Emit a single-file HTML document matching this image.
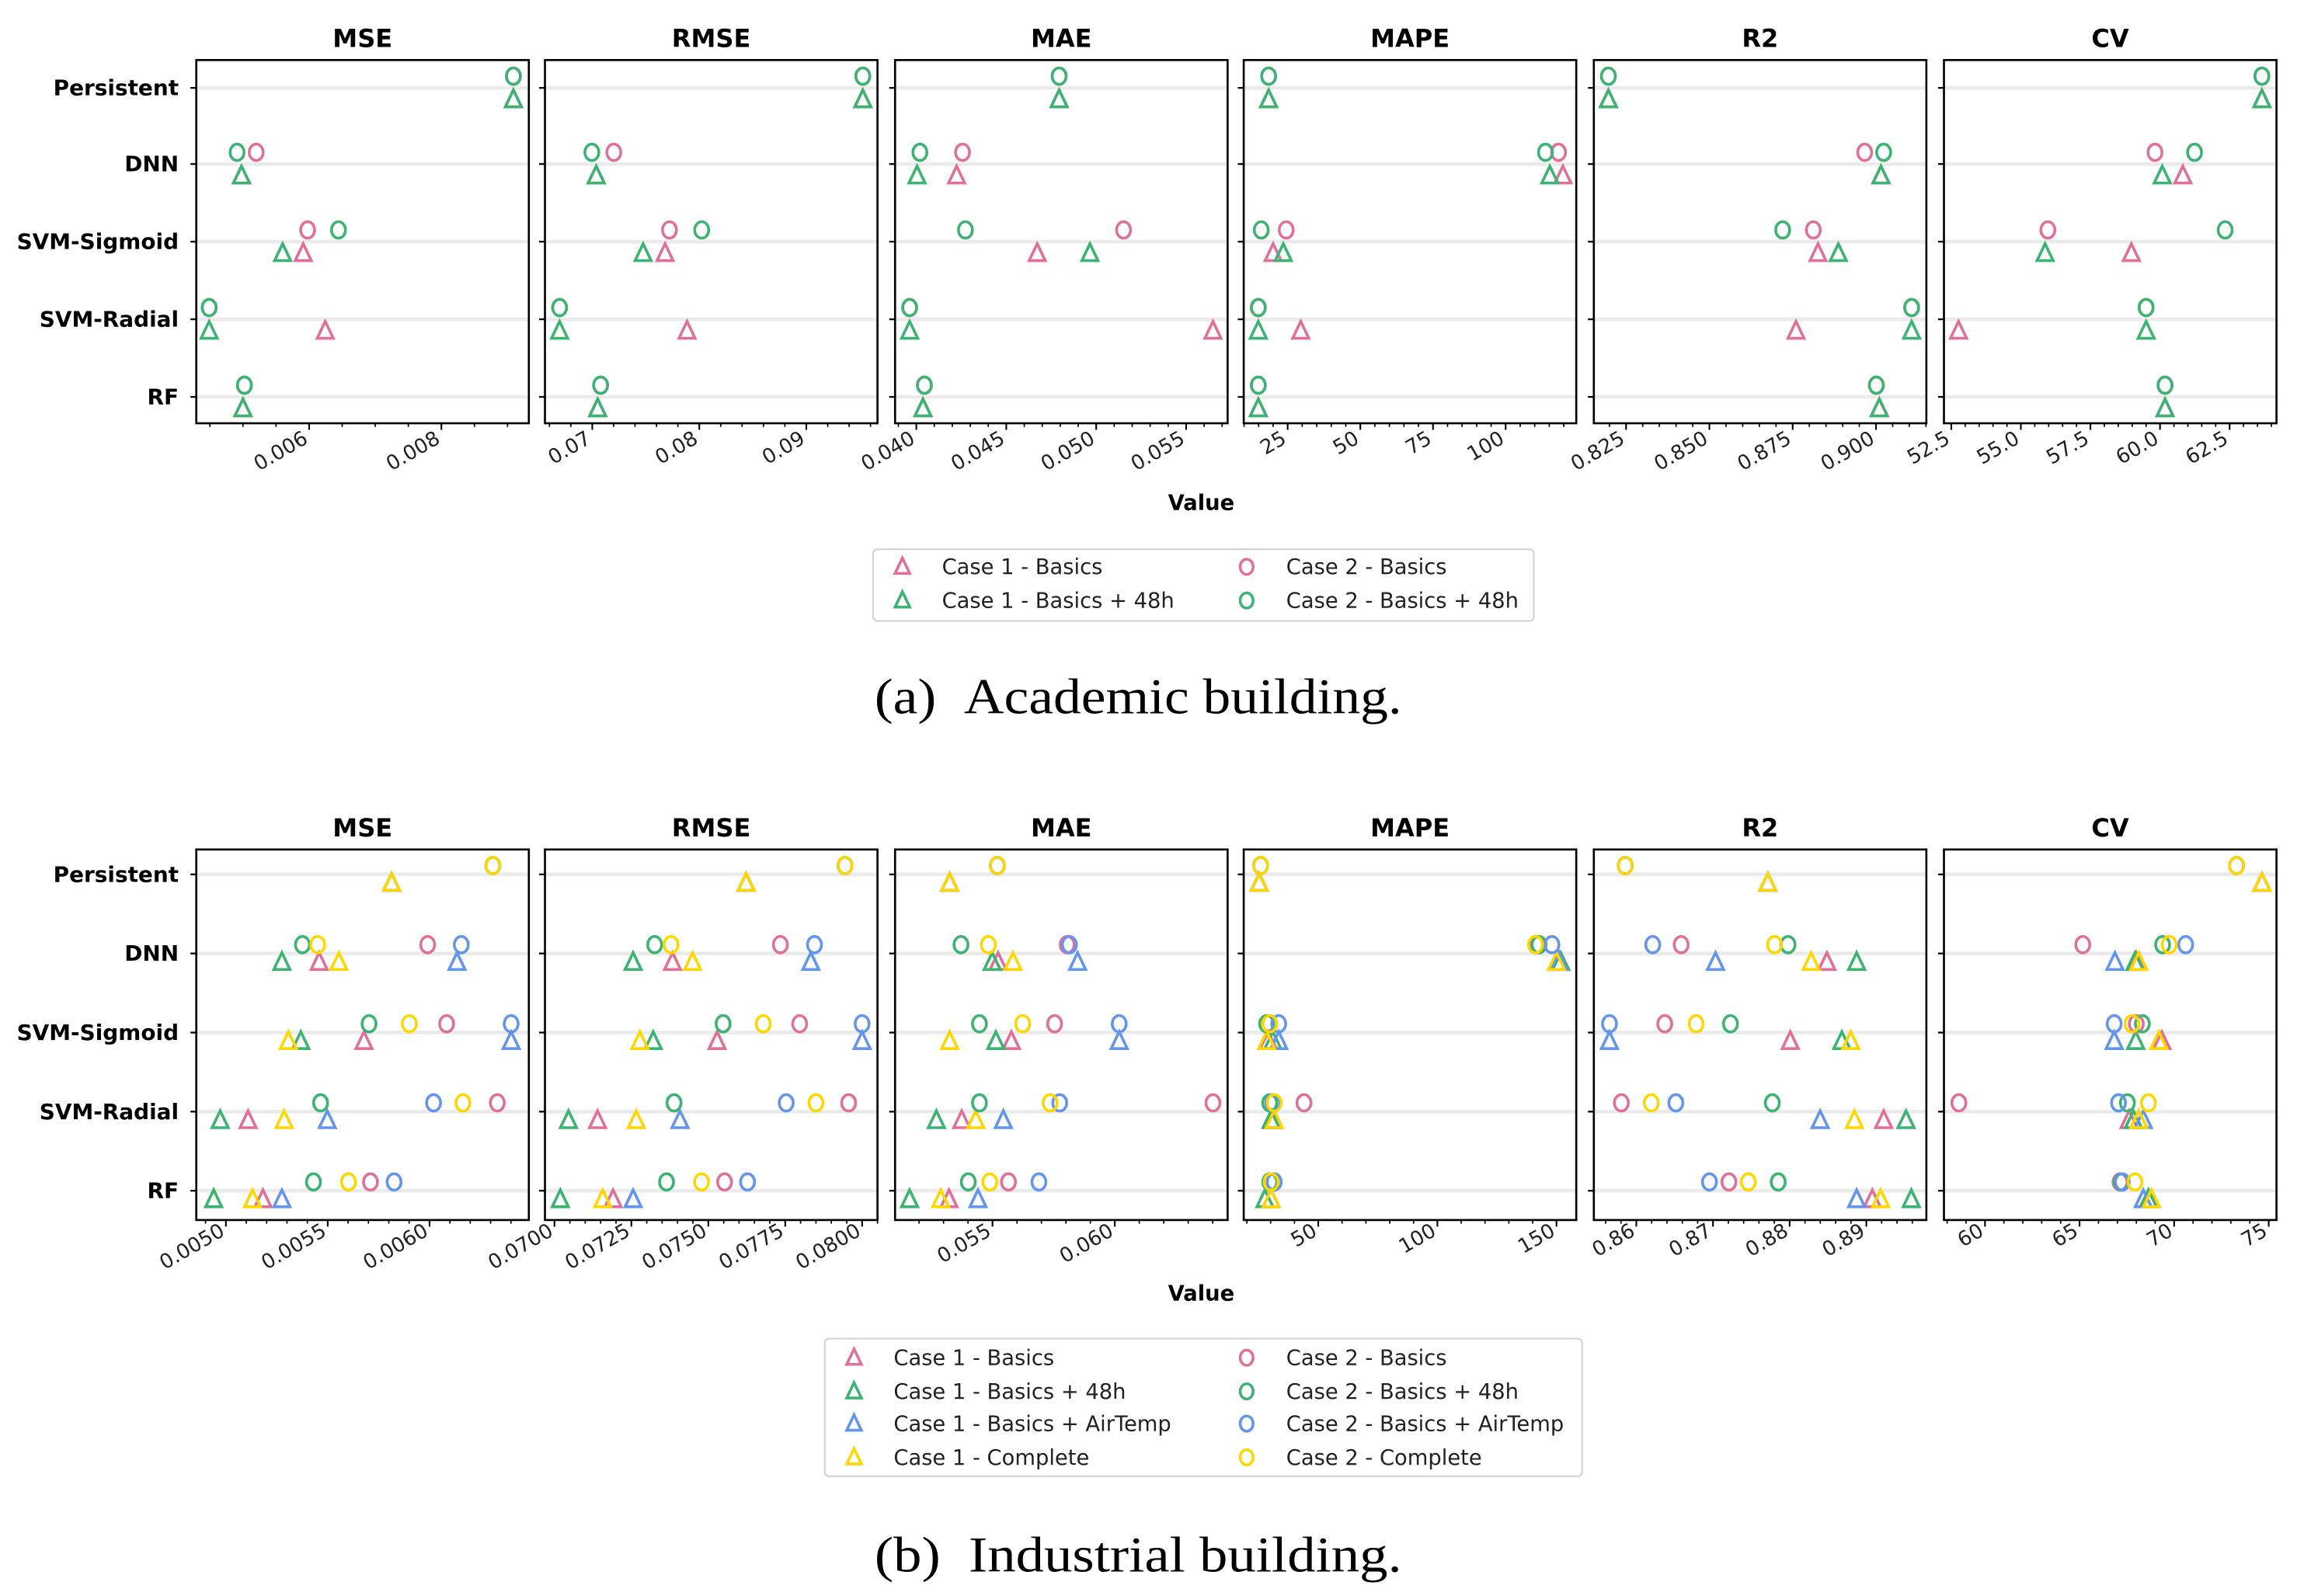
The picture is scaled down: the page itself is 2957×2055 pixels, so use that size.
<!DOCTYPE html>
<html><head><meta charset="utf-8"><style>
html,body{margin:0;padding:0;background:#fff;}
svg{display:block;}
text{font-family:"DejaVu Sans","Liberation Sans",sans-serif;}
.cap{font-family:"Liberation Serif",serif;}
</style></head><body>
<svg id="fig" width="2957" height="2055" viewBox="0 0 1568 1089.7" preserveAspectRatio="none" xmlns="http://www.w3.org/2000/svg"></svg>
<script>
const models = ["Persistent","DNN","SVM-Sigmoid","SVM-Radial","RF"];
const metrics = ["MSE","RMSE","MAE","MAPE","R2","CV"];
const seriesNamesA = ["Case 1 - Basics","Case 1 - Basics + 48h","Case 2 - Basics","Case 2 - Basics + 48h"];
const seriesNamesB = ["Case 1 - Basics","Case 1 - Basics + 48h","Case 1 - Basics + AirTemp","Case 1 - Complete","Case 2 - Basics","Case 2 - Basics + 48h","Case 2 - Basics + AirTemp","Case 2 - Complete"];

// Academic building: per metric, per series [Persistent, DNN, SVM-Sigmoid, SVM-Radial, RF]
const a_MSE_c1b=[0.009089,0.004978,0.005911,0.006244,0.005];
const a_MSE_c1h=[0.009089,0.004978,0.0056,0.004489,0.005];
const a_MSE_c2b=[0.009089,0.0052,0.005978,0.004489,0.005022];
const a_MSE_c2h=[0.009089,0.004911,0.006444,0.004489,0.005022];
const a_RMSE_c1b=[0.095284,0.07037,0.076804,0.078857,0.070506];
const a_RMSE_c1h=[0.095284,0.07037,0.07475,0.066947,0.070506];
const a_RMSE_c2b=[0.095284,0.072012,0.077215,0.066947,0.07078];
const a_RMSE_c2h=[0.095284,0.069959,0.080226,0.066947,0.07078];
const a_MAE_c1b=[0.04794,0.04224,0.04672,0.05649,0.04037];
const a_MAE_c1h=[0.04794,0.04004,0.04965,0.03963,0.04037];
const a_MAE_c2b=[0.04794,0.04257,0.05152,0.03963,0.04045];
const a_MAE_c2h=[0.04794,0.0402,0.04273,0.03963,0.04045];
const a_MAPE_c1b=[18.45,119.7,20.0,29.5,14.9];
const a_MAPE_c1h=[18.45,115.2,23.5,14.9,14.9];
const a_MAPE_c2b=[18.45,118.2,24.5,14.9,14.9];
const a_MAPE_c2h=[18.45,113.7,15.9,14.9,14.9];
const a_R2_c1b=[0.8197,0.9015,0.8826,0.876,0.901];
const a_R2_c1h=[0.8197,0.9015,0.8887,0.9107,0.901];
const a_R2_c2b=[0.8197,0.8966,0.8812,0.9107,0.9001];
const a_R2_c2h=[0.8197,0.9023,0.872,0.9107,0.9001];
const a_CV_c1b=[63.66,60.82,58.97,52.76,60.18];
const a_CV_c1h=[63.66,60.08,55.87,59.5,60.18];
const a_CV_c2b=[63.66,59.82,55.97,59.5,60.18];
const a_CV_c2h=[63.66,61.24,62.34,59.5,60.18];

// Industrial building
const b_MSE_c1b=[0.005814,0.005458,0.005678,0.005109,0.005182];
const b_MSE_c1h=[0.005814,0.005275,0.005368,0.004972,0.00494];
const b_MSE_c1a=[0.005814,0.006135,0.006401,0.005498,0.005275];
const b_MSE_c1c=[0.005814,0.005555,0.005307,0.005286,0.005131];
const b_MSE_c2b=[0.006311,0.005991,0.006084,0.006333,0.00571];
const b_MSE_c2h=[0.006311,0.005376,0.005703,0.005465,0.00543];
const b_MSE_c2a=[0.006311,0.006156,0.006401,0.00602,0.005826];
const b_MSE_c2c=[0.006311,0.005451,0.005901,0.006164,0.005602];
const b_RMSE_c1b=[0.076229,0.073838,0.075286,0.0714,0.071905];
const b_RMSE_c1h=[0.076229,0.072557,0.07321,0.070457,0.07019];
const b_RMSE_c1a=[0.076229,0.078333,0.08,0.074081,0.072557];
const b_RMSE_c1c=[0.076229,0.07449,0.072776,0.072657,0.071567];
const b_RMSE_c2b=[0.079443,0.077343,0.077971,0.079562,0.075529];
const b_RMSE_c2h=[0.079443,0.073257,0.075481,0.073886,0.073643];
const b_RMSE_c2a=[0.079443,0.078452,0.08,0.077533,0.076276];
const b_RMSE_c2c=[0.079443,0.07379,0.076786,0.0785,0.074781];
const b_MAE_c1b=[0.053251,0.055228,0.055772,0.053743,0.053222];
const b_MAE_c1h=[0.053251,0.054988,0.055138,0.052707,0.051611];
const b_MAE_c1a=[0.053251,0.058479,0.06018,0.055443,0.054407];
const b_MAE_c1c=[0.053251,0.055838,0.053251,0.054317,0.052886];
const b_MAE_c2b=[0.055198,0.058054,0.057539,0.064012,0.055653];
const b_MAE_c2h=[0.055198,0.053713,0.054467,0.054467,0.054012];
const b_MAE_c2a=[0.055198,0.058144,0.06018,0.057749,0.056898];
const b_MAE_c2c=[0.055198,0.054832,0.056234,0.057353,0.054892];
const b_MAPE_c1b=[25.2,151.2,29.0,30.9,30.2];
const b_MAPE_c1h=[25.2,151.8,30.9,30.2,27.6];
const b_MAPE_c1a=[25.2,151.0,33.4,31.5,30.2];
const b_MAPE_c1c=[25.2,150.0,28.3,31.5,30.2];
const b_MAPE_c2b=[25.8,141.8,29.6,44.0,30.2];
const b_MAPE_c2h=[25.8,142.7,28.3,29.6,29.6];
const b_MAPE_c2a=[25.8,148.1,33.4,30.9,31.5];
const b_MAPE_c2c=[25.8,141.2,29.6,31.5,30.2];
const b_R2_c1b=[0.87715,0.88486,0.88008,0.89226,0.89078];
const b_R2_c1h=[0.87715,0.88874,0.88681,0.89518,0.89587];
const b_R2_c1a=[0.87715,0.87033,0.8565,0.88398,0.88874];
const b_R2_c1c=[0.87715,0.88281,0.88797,0.88845,0.89187];
const b_R2_c2b=[0.85855,0.86585,0.86371,0.85805,0.87208];
const b_R2_c2h=[0.85855,0.87979,0.87228,0.87774,0.87851];
const b_R2_c2a=[0.85855,0.86214,0.8565,0.86516,0.86954];
const b_R2_c2c=[0.85855,0.87803,0.8678,0.86195,0.87461];
const b_CV_c1b=[74.64,68.0,69.35,67.62,68.64];
const b_CV_c1h=[74.64,67.93,67.97,67.85,68.64];
const b_CV_c1a=[74.64,66.87,66.83,68.37,68.37];
const b_CV_c1c=[74.64,68.13,69.19,68.13,68.8];
const b_CV_c2b=[73.3,65.17,68.0,58.62,67.14];
const b_CV_c2h=[73.3,69.39,68.32,67.53,67.2];
const b_CV_c2a=[73.3,70.61,66.83,67.06,67.26];
const b_CV_c2c=[73.3,69.74,67.77,68.64,67.93];

// tick labels
const a_ticks_MSE=[0.006,0.008], a_ticks_RMSE=[0.07,0.08,0.09], a_ticks_MAE=[0.040,0.045,0.050,0.055];
const a_ticks_MAPE=[25,50,75,100], a_ticks_R2=[0.825,0.850,0.875,0.900], a_ticks_CV=[52.5,55.0,57.5,60.0,62.5];
const b_ticks_MSE=[0.0050,0.0055,0.0060], b_ticks_RMSE=[0.0700,0.0725,0.0750,0.0775,0.0800], b_ticks_MAE=[0.055,0.060];
const b_ticks_MAPE=[50,100,150], b_ticks_R2=[0.86,0.87,0.88,0.89], b_ticks_CV=[60,65,70,75];

function getArr(name){ return eval(name); }

const NS="http://www.w3.org/2000/svg";
const svg=document.getElementById('fig');
function el(tag,attrs,parent){const e=document.createElementNS(NS,tag);for(const k in attrs)e.setAttribute(k,attrs[k]);(parent||svg).appendChild(e);return e;}
const COL={pink:"#e0709a",green:"#3cb371",blue:"#6495ed",yellow:"#ffd700"};
const panelX=[134,372,611,849,1088,1327], PW=227;

const calA={MSE:[0.006,211,0.008,301.3],RMSE:[0.07,404.3,0.09,550.4],MAE:[0.04,625.5,0.05,748.3],MAPE:[25,879,100,1027.8],R2:[0.825,1110,0.9,1280.6],CV:[52.5,1332,62.5,1522]};
const calB={MSE:[0.005,154.2,0.006,293.2],RMSE:[0.07,378.5,0.08,588.5],MAE:[0.055,677.5,0.06,761],MAPE:[50,899.9,150,1062.5],R2:[0.86,1117,0.89,1274],CV:[60,1355,75,1548.7]};
const minorA={MSE:0.0005,RMSE:0.002,MAE:0.001,MAPE:5,R2:0.005,CV:0.5};
const minorB={MSE:0.0001,RMSE:0.0005,MAE:0.001,MAPE:10,R2:0.002,CV:1};
function fmt(v,m,part){
  if(part==='a'){ if(m==='MSE')return v.toFixed(3); if(m==='RMSE')return v.toFixed(2); if(m==='MAE'||m==='R2')return v.toFixed(3); if(m==='CV')return v.toFixed(1); return String(v);}
  if(m==='MSE'||m==='RMSE')return v.toFixed(4); if(m==='MAE')return v.toFixed(3); if(m==='R2')return v.toFixed(2); return String(v);
}
function tri(g,x,y,c,s){el('path',{d:`M${x},${y-s*0.6} L${x+s*0.5},${y+s*0.45} L${x-s*0.5},${y+s*0.45} Z`,fill:'none',stroke:c,'stroke-width':1.9,'stroke-linejoin':'miter'},g);}
function circ(g,x,y,c,r){el('ellipse',{cx:x,cy:y,rx:r*0.85,ry:r,fill:'none',stroke:c,'stroke-width':1.9},g);}

function drawFigure(part,top,bot,rows,off,titleY,tickY,valueY,seriesKeys,seriesCols,seriesShapes){
  const cal=part==='a'?calA:calB, minor=part==='a'?minorA:minorB;
  const fig=el('g',{});
  
  
  metrics.forEach((m,pi)=>{
    const x0=panelX[pi];
    const c=cal[m];
    const sx=v=>c[1]+(v-c[0])*(c[3]-c[1])/(c[2]-c[0]);
    const inv=px=>c[0]+(px-c[1])*(c[2]-c[0])/(c[3]-c[1]);
    const g=el('g',{},fig);
    
    
    const t=el('text',{x:x0+PW/2,y:titleY,'text-anchor':'middle','font-size':17,'font-weight':'bold'},g);
    t.textContent=m;
    
    
    rows.forEach(ry=>{el('line',{x1:x0,x2:x0+PW,y1:ry,y2:ry,stroke:'#ebebeb','stroke-width':2.5},g);
      el('line',{x1:x0-4,x2:x0,y1:ry,y2:ry,stroke:'#000','stroke-width':1.2},g);});
    const lo=inv(x0), hi=inv(x0+PW), st=minor[m];
    for(let k=Math.ceil(lo/st-1e-9); k*st<=hi+1e-12; k++){const v=k*st; const px=sx(v); if(px<x0-0.5||px>x0+PW+0.5)continue; el('line',{x1:px,x2:px,y1:bot,y2:bot+2.5,stroke:'#000','stroke-width':0.9},g);}
    const ticks=getArr(part+'_ticks_'+m);
    ticks.forEach(tv=>{const px=sx(tv);
      el('line',{x1:px,x2:px,y1:bot,y2:bot+4.5,stroke:'#000','stroke-width':1.1},g);
      const tl=el('text',{x:px,y:tickY,'text-anchor':'end','font-size':13.8,fill:'#222',transform:`rotate(-30 ${px} ${tickY})`},g);
      tl.textContent=fmt(tv,m,part);
      
      
    });
    const rect=el('rect',{x:x0,y:top,width:PW,height:bot-top,fill:'none',stroke:'#000','stroke-width':1.4},g);
    
    
    seriesKeys.forEach((k,si)=>{
      const vals=getArr(part+'_'+m+'_'+k);
      vals.forEach((v,ri)=>{ if(v==null)return;
        const px=sx(v);
        const mg=el('g',{},g);
        
        
        if(seriesShapes[si]==='t') tri(mg,px,rows[ri]+off,seriesCols[si],11); else circ(mg,px,rows[ri]-off,seriesCols[si],5.6);
      });
    });
  });
  models.forEach((mn,ri)=>{const yl=el('text',{x:122,y:rows[ri]+5,'text-anchor':'end','font-size':14.8,'font-weight':'bold'},fig);
    yl.textContent=mn;
    
    });
  const vl=el('text',{x:820,y:valueY,'text-anchor':'middle','font-size':14.5,'font-weight':'bold'},fig);
  vl.textContent='Value';
  
  
}
drawFigure('a',41,289,[60,112,165,218,271],8,32,302,348,["c1b","c1h","c2b","c2h"],[COL.pink,COL.green,COL.pink,COL.green],['t','t','c','c']);
drawFigure('b',580,833,[597,651,705,759,813],6,571,843,888,["c1b","c1h","c1a","c1c","c2b","c2h","c2a","c2c"],[COL.pink,COL.green,COL.blue,COL.yellow,COL.pink,COL.green,COL.blue,COL.yellow],['t','t','t','t','c','c','c','c']);

function legend(x,y,w,h,names,cols,shapes,colX,textX,rowY,nm){
  const g=el('g',{});
  
  
  el('rect',{x:x,y:y,width:w,height:h,rx:3,fill:'#fff',stroke:'#d6d6d6','stroke-width':1.2},g);
  names.forEach((n,i)=>{const col=i<names.length/2?0:1, r=i%(names.length/2);
    const eg=el('g',{},g);
    
    
    if(shapes[i]==='t')tri(eg,colX[col],rowY[r],cols[i],10); else circ(eg,colX[col],rowY[r],cols[i],5.2);
    const t=el('text',{x:textX[col],y:rowY[r]+5,'font-size':14.5,fill:'#222'},eg); t.textContent=n;});
}
legend(596,375,451,49,seriesNamesA,[COL.pink,COL.green,COL.pink,COL.green],['t','t','c','c'],[616,851],[643,878],[387,410],'legend-academic');
legend(563,914,517,94,seriesNamesB,[COL.pink,COL.green,COL.blue,COL.yellow,COL.pink,COL.green,COL.blue,COL.yellow],['t','t','t','t','c','c','c','c'],[583,851],[610,878],[927,950,972,995],'legend-industrial');

const c1=el('text',{x:597,y:487,'font-size':34,class:'cap',textLength:360,lengthAdjust:'spacingAndGlyphs'});
c1.textContent='(a)\u2002Academic building.';


const c2=el('text',{x:597,y:1073,'font-size':34,class:'cap',textLength:360,lengthAdjust:'spacingAndGlyphs'});
c2.textContent='(b)\u2002Industrial building.';


</script>
</body></html>
